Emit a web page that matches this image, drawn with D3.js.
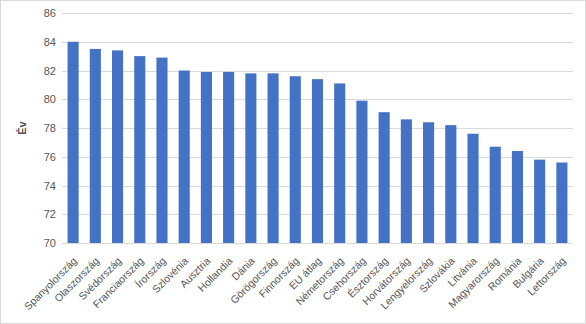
<!DOCTYPE html>
<html>
<head>
<meta charset="utf-8">
<script src="https://cdn.jsdelivr.net/npm/d3@7"></script>
<style>
	body { margin: 0; background: #fff; }
	#chart { width: 586px; height: 324px; }
	text { font-family: "Liberation Sans", Arial, sans-serif; fill: #555; }
</style>
</head>
<body>
<div id="chart"></div>
<script>
// countries, sorted by life expectancy
var countries = ["Spanyolország", "Olaszország", "Svédország", "Franciaország", "Írország",
	"Szlovénia", "Ausztria", "Hollandia", "Dánia", "Görögország", "Finnország", "EU átlag",
	"Németország", "Csehország", "Észtország", "Horvátország", "Lengyelország", "Szlovákia",
	"Litvánia", "Magyarország", "Románia", "Bulgária", "Lettország"];
var years = [84.0, 83.5, 83.4, 83.0, 82.9, 82.0, 81.9, 81.9, 81.8, 81.8, 81.6, 81.4,
	81.1, 79.9, 79.1, 78.6, 78.4, 78.2, 77.6, 76.7, 76.4, 75.8, 75.6];
var yTicks = [70, 72, 74, 76, 78, 80, 82, 84, 86];

var w = 586, h = 324;
var margin = { top: 13, right: 13, bottom: 81, left: 62 };

var svg = d3.select("#chart").append("svg")
	.attr("width", w)
	.attr("height", h);

// outer chart border
svg.append("rect")
	.attr("x", 0.5).attr("y", 0.5)
	.attr("width", w - 1).attr("height", h - 1)
	.style("fill", "none")
	.style("stroke", "#d9d9d9");

var x = d3.scaleBand()
	.domain(countries)
	.range([margin.left, w - margin.right])
	.paddingInner(0.5)
	.paddingOuter(0.25);

var y = d3.scaleLinear()
	.domain([70, 86])
	.range([h - margin.bottom, margin.top]);

// gridlines
svg.append("g")
	.selectAll("line")
	.data(yTicks)
	.enter().append("line")
	.attr("x1", margin.left)
	.attr("x2", w - margin.right)
	.attr("y1", function(d) { return Math.round(y(d)) + 0.5; })
	.attr("y2", function(d) { return Math.round(y(d)) + 0.5; })
	.style("stroke", "#d9d9d9")
	.style("stroke-width", 1);

// y axis labels
var yAxis = svg.append("g")
	.attr("transform", "translate(" + (margin.left - 6) + ",0)")
	.call(d3.axisLeft(y).tickValues(yTicks).tickSize(0).tickPadding(0));
yAxis.select(".domain").remove();
yAxis.selectAll("text")
	.style("font-size", "11px")
	.style("fill", "#555");

svg.append("text")
	.attr("transform", "translate(26," + ((margin.top + h - margin.bottom) / 2) + ") rotate(-90)")
	.attr("text-anchor", "middle")
	.style("font-size", "11px")
	.style("font-weight", "bold")
	.text("Év");

// bars
svg.append("g")
	.selectAll("rect")
	.data(years)
	.enter().append("rect")
	.attr("x", function(d, i) { return x(countries[i]); })
	.attr("y", function(d) { return y(d); })
	.attr("width", x.bandwidth())
	.attr("height", function(d) { return y(70) - y(d); })
	.style("fill", "#4472c4");

// x axis labels, rotated
var xAxis = svg.append("g")
	.attr("transform", "translate(0," + (h - margin.bottom) + ")")
	.call(d3.axisBottom(x).tickSize(0).tickPadding(0));
xAxis.select(".domain").remove();
xAxis.selectAll("text")
	.attr("text-anchor", "end")
	.attr("dy", "0.35em")
	.attr("transform", "translate(2,16) rotate(-45)")
	.attr("y", 0)
	.attr("x", 0)
	.style("font-size", "10.5px")
	.style("fill", "#555");
</script>
</body>
</html>
